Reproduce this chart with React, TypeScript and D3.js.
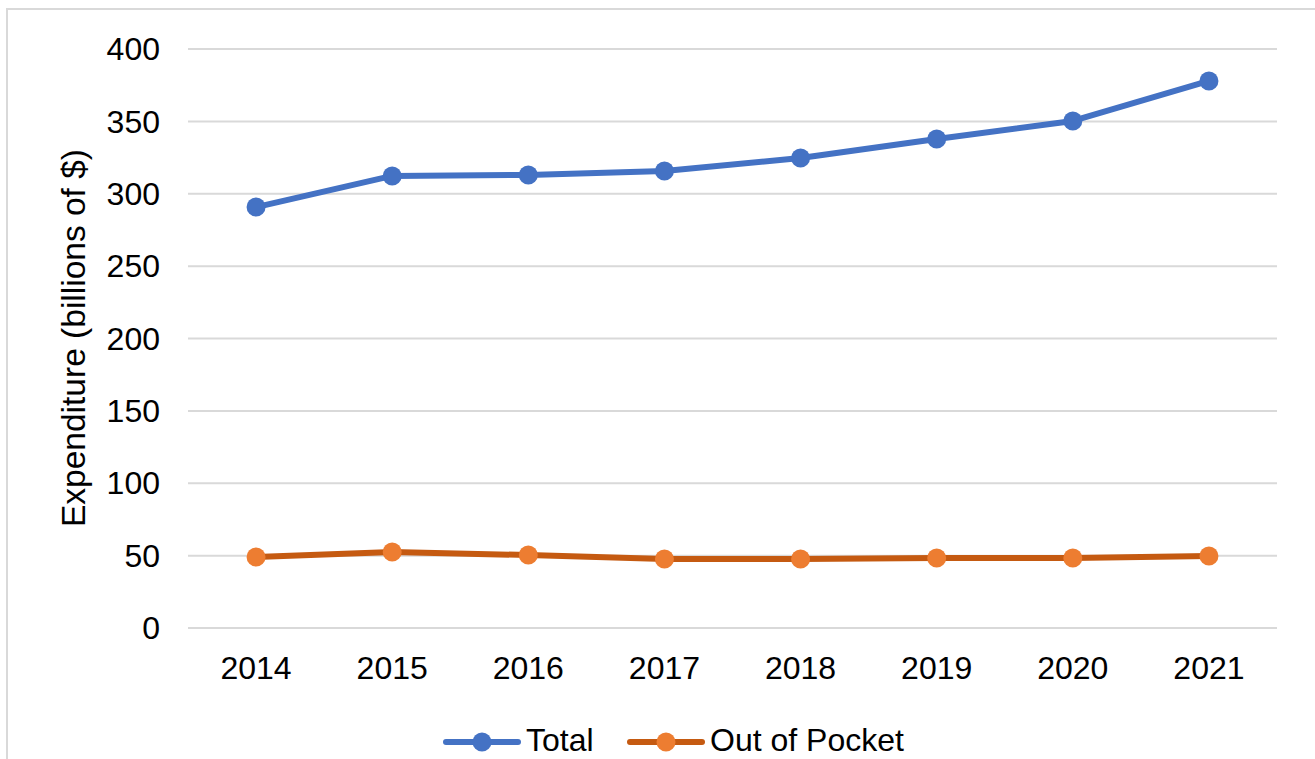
import React, { useRef, useEffect } from 'react';
import * as d3 from 'd3';

const years = ['2014', '2015', '2016', '2017', '2018', '2019', '2020', '2021'];
const totalValues = [290.8, 312.3, 313, 315.7, 324.7, 337.8, 350.3, 377.9];
const outOfPocketValues = [49, 52.5, 50.4, 47.7, 47.7, 48.4, 48.4, 49.7];
const yTicks = [0, 50, 100, 150, 200, 250, 300, 350, 400];

const series = [
  { name: 'Total', values: totalValues, line: '#4472C4', marker: '#4472C4' },
  { name: 'Out of Pocket', values: outOfPocketValues, line: '#C55A11', marker: '#ED7D31' },
];

const WIDTH = 1315, HEIGHT = 759;
const FONT = '"Liberation Sans", Arial, sans-serif';

const App = () => {
  const ref = useRef<SVGSVGElement>(null);

  useEffect(() => {
    const svg = d3.select(ref.current);
    svg.selectAll('*').remove();

    const left = 188, right = 1277, top = 49, bottom = 628;

    // chart border (runs off the right and bottom of the picture)
    svg.append('rect')
      .attr('x', 7).attr('y', 9)
      .attr('width', WIDTH + 20).attr('height', HEIGHT + 20)
      .attr('fill', 'white')
      .attr('stroke', '#D9D9D9').attr('stroke-width', 2);

    const x = d3.scaleBand().domain(years).range([left, right]);
    const y = d3.scaleLinear().domain([0, 400]).range([bottom, top]);

    svg.append('g').selectAll('line')
      .data(yTicks)
      .join('line')
      .attr('x1', left).attr('x2', right)
      .attr('y1', d => y(d)).attr('y2', d => y(d))
      .attr('stroke', '#D9D9D9').attr('stroke-width', 2);

    svg.append('g').selectAll('text')
      .data(yTicks)
      .join('text')
      .attr('x', 160).attr('y', d => y(d))
      .attr('dy', '0.35em')
      .attr('text-anchor', 'end')
      .style('font-family', FONT).style('font-size', '32px').style('fill', '#000')
      .text(d => d);

    svg.append('g').selectAll('text')
      .data(years)
      .join('text')
      .attr('x', d => x(d)! + x.bandwidth() / 2).attr('y', 668)
      .attr('dy', '0.35em')
      .attr('text-anchor', 'middle')
      .style('font-family', FONT).style('font-size', '32px').style('fill', '#000')
      .text(d => d);

    svg.append('text')
      .attr('transform', 'translate(85, 338) rotate(-90)')
      .attr('text-anchor', 'middle')
      .style('font-family', FONT).style('font-size', '33.5px').style('fill', '#000')
      .text('Expenditure (billions of $)');

    const line = d3.line<number>()
      .x((_, i) => x(years[i])! + x.bandwidth() / 2)
      .y(d => y(d));

    series.forEach(s => {
      const g = svg.append('g');
      g.append('path')
        .attr('d', line(s.values))
        .attr('fill', 'none')
        .attr('stroke', s.line).attr('stroke-width', 6)
        .attr('stroke-linejoin', 'round').attr('stroke-linecap', 'round');
      g.selectAll('circle')
        .data(s.values)
        .join('circle')
        .attr('cx', (_, i) => x(years[i])! + x.bandwidth() / 2)
        .attr('cy', d => y(d))
        .attr('r', 9.5)
        .attr('fill', s.marker);
    });

    // legend
    const legendY = 742;
    const legendItems = [
      { ...series[0], x0: 443 },
      { ...series[1], x0: 627 },
    ];
    legendItems.forEach(s => {
      const g = svg.append('g');
      g.append('line')
        .attr('x1', s.x0 + 3).attr('x2', s.x0 + 75)
        .attr('y1', legendY).attr('y2', legendY)
        .attr('stroke', s.line).attr('stroke-width', 6).attr('stroke-linecap', 'round');
      g.append('circle')
        .attr('cx', s.x0 + 39).attr('cy', legendY).attr('r', 9.5)
        .attr('fill', s.marker);
      g.append('text')
        .attr('x', s.x0 + 83).attr('y', legendY - 2)
        .attr('dy', '0.35em')
        .style('font-family', FONT).style('font-size', '32px').style('fill', '#000')
        .text(s.name);
    });
  }, []);

  return (
    <svg
      ref={ref}
      width={WIDTH}
      height={HEIGHT}
      style={{ position: 'absolute', left: 0, top: 0, display: 'block' }}
    />
  );
};

export default App;
